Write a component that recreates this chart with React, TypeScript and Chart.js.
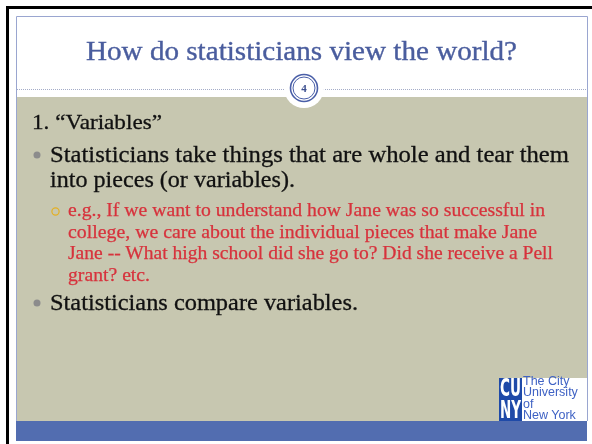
import React, { useEffect, useLayoutEffect, useRef } from "react";
import { Chart, registerables } from "chart.js";

Chart.register(...registerables);

const TITLE = "How do statisticians view the world?";
const SLIDE_NUMBER = "4";
const HEADING = "1. \u201CVariables\u201D";
const BULLET_1_LINES = [
  "Statisticians take things that are whole and tear them",
  "into pieces (or variables).",
];
const SUB_BULLET_LINES = [
  "e.g., If we want to understand how Jane was so successful in",
  "college, we care about the individual pieces that make Jane",
  "Jane -- What high school did she go to? Did she receive a Pell",
  "grant? etc.",
];
const BULLET_2_LINES = ["Statisticians compare variables."];
const LOGO_MARK = ["CU", "NY"];
const LOGO_TEXT = ["The City", "University", "of", "New York"];

// measured line widths in the reference layout (px)
const BULLET_1_WIDTHS = [519, 245];
const SUB_BULLET_WIDTHS = [477, 469, 485, 82];
const BULLET_2_WIDTHS = [308];

const TAN = "#c7c7b0";
const BAR_BLUE = "#526db0";
const FRAME_BLUE = "#9aa6d0";
const TITLE_BLUE = "#4a5d9e";
const RED = "#d7323c";

const slidePlugin = {
  id: "slideBackdrop",
  beforeDraw(chart: any) {
    const ctx = chart.ctx as CanvasRenderingContext2D;
    ctx.save();
    ctx.fillStyle = "#ffffff";
    ctx.fillRect(0, 0, 592, 444);
    ctx.fillStyle = "#000000";
    ctx.fillRect(6, 6, 3, 438);
    ctx.fillRect(6, 6, 586, 3);
    ctx.strokeStyle = FRAME_BLUE;
    ctx.lineWidth = 1;
    ctx.beginPath();
    ctx.moveTo(16.5, 441);
    ctx.lineTo(16.5, 16.5);
    ctx.lineTo(587.5, 16.5);
    ctx.lineTo(587.5, 421);
    ctx.stroke();
    ctx.fillStyle = TAN;
    ctx.fillRect(17, 97, 570, 324);
    ctx.fillStyle = BAR_BLUE;
    ctx.fillRect(16, 421, 571, 20);
    ctx.strokeStyle = "#a4acc8";
    ctx.setLineDash([1, 1]);
    ctx.beginPath();
    ctx.moveTo(17, 89.5);
    ctx.lineTo(587, 89.5);
    ctx.stroke();
    ctx.setLineDash([]);
    const cx = 304;
    const cy = 88;
    ctx.fillStyle = "#ffffff";
    ctx.beginPath();
    ctx.arc(cx, cy, 20, 0, Math.PI * 2);
    ctx.fill();
    ctx.strokeStyle = "#4a5fa8";
    ctx.lineWidth = 1.6;
    ctx.beginPath();
    ctx.arc(cx, cy, 13.5, 0, Math.PI * 2);
    ctx.stroke();
    ctx.lineWidth = 1;
    ctx.beginPath();
    ctx.arc(cx, cy, 11, 0, Math.PI * 2);
    ctx.stroke();
    ctx.fillStyle = "#8c8c8c";
    ctx.beginPath();
    ctx.arc(37, 155, 3.5, 0, Math.PI * 2);
    ctx.fill();
    ctx.beginPath();
    ctx.arc(37, 303, 3.5, 0, Math.PI * 2);
    ctx.fill();
    ctx.strokeStyle = "#e4b024";
    ctx.lineWidth = 1.2;
    ctx.beginPath();
    ctx.arc(55.5, 211.5, 3.6, 0, Math.PI * 2);
    ctx.stroke();
    ctx.fillStyle = "#ffffff";
    ctx.fillRect(499, 378, 88, 43);
    ctx.fillStyle = "#1f4aa8";
    ctx.fillRect(499, 378, 23, 43);
    ctx.restore();
  },
};

const serif = "'Liberation Serif', 'Times New Roman', serif";

type FitProps = {
  text: string;
  left: number;
  top: number;
  size: number;
  color: string;
  width?: number;
  weight?: number;
  family?: string;
  lineHeight?: number;
  stroke?: number;
};

function Fit(p: FitProps) {
  const ref = useRef<HTMLDivElement | null>(null);
  useLayoutEffect(() => {
    const el = ref.current;
    if (!el || !p.width) return;
    const apply = () => {
      el.style.transform = "none";
      const w = el.getBoundingClientRect().width;
      if (w > 0) el.style.transform = `scaleX(${p.width! / w})`;
    };
    apply();
    if ((document as any).fonts?.ready) (document as any).fonts.ready.then(apply);
  }, [p.text, p.width, p.size]);
  return (
    <div
      ref={ref}
      style={{
        position: "absolute",
        left: p.left,
        top: p.top,
        fontSize: p.size,
        lineHeight: `${p.lineHeight ?? p.size}px`,
        color: p.color,
        fontFamily: p.family ?? serif,
        fontWeight: p.weight ?? 400,
        whiteSpace: "nowrap",
        transformOrigin: "0 0",
        WebkitTextStroke: p.stroke ? `${p.stroke}px ${p.color}` : undefined,
      }}
    >
      {p.text}
    </div>
  );
}

export default function App() {
  const canvasRef = useRef<HTMLCanvasElement | null>(null);

  useEffect(() => {
    const canvas = canvasRef.current;
    if (!canvas) return;
    const chart = new Chart(canvas, {
      type: "bar",
      data: { labels: [], datasets: [] },
      options: {
        responsive: false,
        animation: false,
        devicePixelRatio: 1,
        plugins: { legend: { display: false }, tooltip: { enabled: false } },
        scales: { x: { display: false }, y: { display: false } },
      },
      plugins: [slidePlugin],
    });
    return () => chart.destroy();
  }, []);

  const base = (b: number, s: number) => b - 0.8375 * s;

  return (
    <div style={{ position: "fixed", left: 0, top: 0, width: 592, height: 444, overflow: "hidden", background: "#fff" }}>
      <canvas ref={canvasRef} width={592} height={444} style={{ position: "absolute", left: 0, top: 0 }} />
      <Fit text={TITLE} left={86} top={base(60, 26.5)} size={26.5} color={TITLE_BLUE} width={431} stroke={0.35} />
      <div
        style={{
          position: "absolute",
          left: 294,
          width: 20,
          top: 81,
          textAlign: "center",
          fontFamily: serif,
          fontWeight: 700,
          fontSize: 11,
          lineHeight: "14px",
          color: "#3c4f8f",
        }}
      >
        {SLIDE_NUMBER}
      </div>
      <Fit text={HEADING} left={32} top={base(129.3, 22)} size={22} color="#111" width={130} stroke={0.3} />
      {BULLET_1_LINES.map((t, i) => (
        <Fit key={"b1" + i} text={t} left={50} top={base(162.3 + i * 25, 23)} size={23} color="#111" width={BULLET_1_WIDTHS[i]} stroke={0.3} />
      ))}
      {SUB_BULLET_LINES.map((t, i) => (
        <Fit key={"sb" + i} text={t} left={68} top={base(216 + i * 21.7, 18)} size={18} color={RED} width={SUB_BULLET_WIDTHS[i]} stroke={0.25} />
      ))}
      {BULLET_2_LINES.map((t, i) => (
        <Fit key={"b2" + i} text={t} left={50} top={base(310 + i * 25, 23)} size={23} color="#111" width={BULLET_2_WIDTHS[i]} stroke={0.3} />
      ))}
      {LOGO_MARK.map((t, i) => (
        <Fit
          key={"lm" + i}
          text={t}
          left={500}
          top={377 + i * 22}
          size={24}
          lineHeight={22}
          color="#fff"
          weight={700}
          width={21}
          family="'Liberation Sans Narrow', 'DejaVu Sans Condensed', sans-serif"
        />
      ))}
      {LOGO_TEXT.map((t, i) => (
        <Fit
          key={"lt" + i}
          text={t}
          left={523}
          top={[375, 385.5, 397.5, 408.5][i]}
          size={12.5}
          lineHeight={12}
          color="#3f62c4"
          family="'Liberation Sans', Arial, sans-serif"
        />
      ))}
    </div>
  );
}
